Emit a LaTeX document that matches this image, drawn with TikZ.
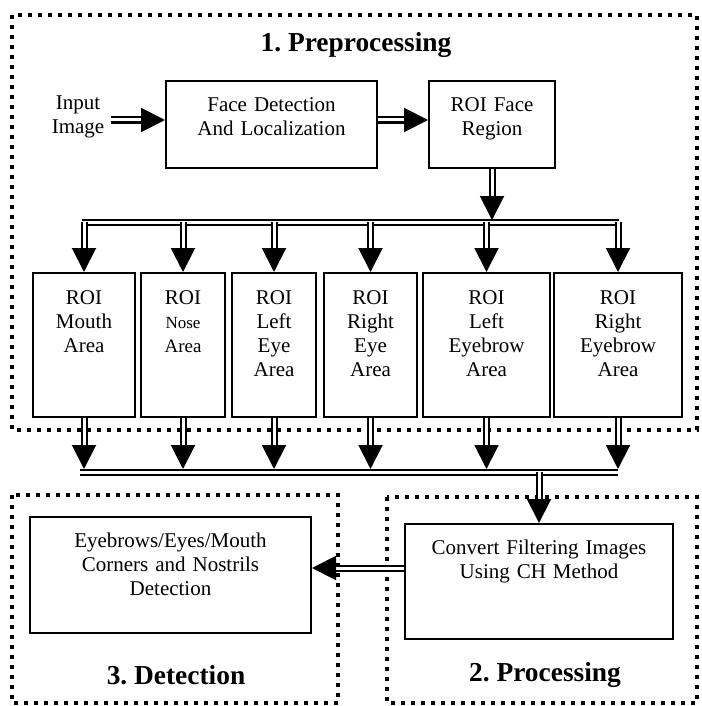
\documentclass[tikz,border=0pt]{standalone}
\usepackage{fontspec}
\setmainfont{Liberation Serif}
\usetikzlibrary{arrows.meta}
\frenchspacing

\begin{document}
\begin{tikzpicture}[x=0.5pt, y=-0.5pt,
		boks/.style={draw, line width=1pt, inner sep=0pt, align=center, anchor=north west, font=\fontsize{10.5}{12}\selectfont},
		roi/.style={text height=15.5pt, text depth=56.5pt},
		ramme/.style={line width=2pt, dash pattern=on 2pt off 3pt},
		tittel/.style={font=\fontsize{13.7}{16}\selectfont\bfseries},
		dobbel/.style={double, double distance=1.5pt, line width=1pt},
		pil/.style={dobbel, -{Triangle[length=12pt, width=12pt]}}]
		\useasboundingbox (0,0) rectangle (701,706);

		% Stiplede rammer for de tre trinnene
		\draw[ramme] (12,15) rectangle (697,430);
		\draw[ramme] (12,495) rectangle (338,703);
		\draw[ramme] (387,497) rectangle (697,703);
		\node[tittel] (t1) at (356,45) {1. Preprocessing};
		\node[tittel] (t2) at (545,675) {2. Processing};
		\node[tittel] (t3) at (176,675) {3. Detection};

		% Inndata og ansiktsdeteksjon
		\node[align=center, font=\fontsize{10.5}{12}\selectfont] (input) at (78,117) {Input\\Image};
		\node[boks, text width=105.5pt, text height=15.5pt, text depth=28pt] (face) at (165,80) {Face Detection\\And Localization};
		\node[boks, text width=63pt, text height=15.5pt, text depth=28pt] (roiface) at (428,80) {ROI Face\\Region};
		\coordinate (rad1) at (0,120);
		\draw[pil] (input.east |- rad1) -- (face.west |- rad1);
		\draw[pil] (face.east |- rad1) -- (roiface.west |- rad1);

		% ROI-omraader
		\node[boks, roi, text width=51pt] (mouth) at (32,272) {ROI\\Mouth\\Area};
		\node[boks, roi, text width=42pt] (nose) at (140,272) {ROI\\{\fontsize{8.5}{12}\selectfont Nose}\\{\fontsize{9.5}{12}\selectfont Area}};
		\node[boks, roi, text width=42pt] (leye) at (231,272) {ROI\\Left\\Eye\\Area};
		\node[boks, roi, text width=46.5pt] (reye) at (323,272) {ROI\\Right\\Eye\\Area};
		\node[boks, roi, text width=63.5pt] (lbrow) at (422,272) {ROI\\Left\\Eyebrow\\Area};
		\node[boks, roi, text width=64pt] (rbrow) at (553,272) {ROI\\Right\\Eyebrow\\Area};

		% Fordeling til regionene
		\coordinate (buss1v) at (82,222);
		\coordinate (buss1h) at (619,222);
		\coordinate (spiss1) at (0,220);
		\draw[dobbel] (buss1v) -- (buss1h);
		\draw[pil] (roiface.south) -- (roiface.south |- spiss1);
		\foreach \r in {mouth, nose, leye, reye, lbrow, rbrow}
			\draw[pil] (\r.north |- buss1v) -- (\r.north);

		% Samling etter regionene
		\coordinate (buss2v) at (80,472);
		\coordinate (buss2h) at (618,472);
		\coordinate (spiss2) at (0,469);
		\foreach \r in {mouth, nose, leye, reye, lbrow, rbrow}
			\draw[pil] (\r.south) -- (\r.south |- spiss2);
		\draw[dobbel] (buss2v) -- (buss2h);

		% Prosessering og deteksjon
		\node[boks, text width=134pt, text height=15pt, text depth=42.5pt] (conv) at (404,523) {Convert Filtering Images\\Using CH Method};
		\node[boks, text width=140.5pt, text height=15pt, text depth=43pt] (det) at (29,516) {Eyebrows/Eyes/Mouth\\Corners and Nostrils\\Detection};
		\draw[pil] (conv.north |- buss2v) -- (conv.north);
		\coordinate (rad2) at (0,568);
		\draw[pil] (conv.west |- rad2) -- (det.east |- rad2);
	\end{tikzpicture}
\end{document}
